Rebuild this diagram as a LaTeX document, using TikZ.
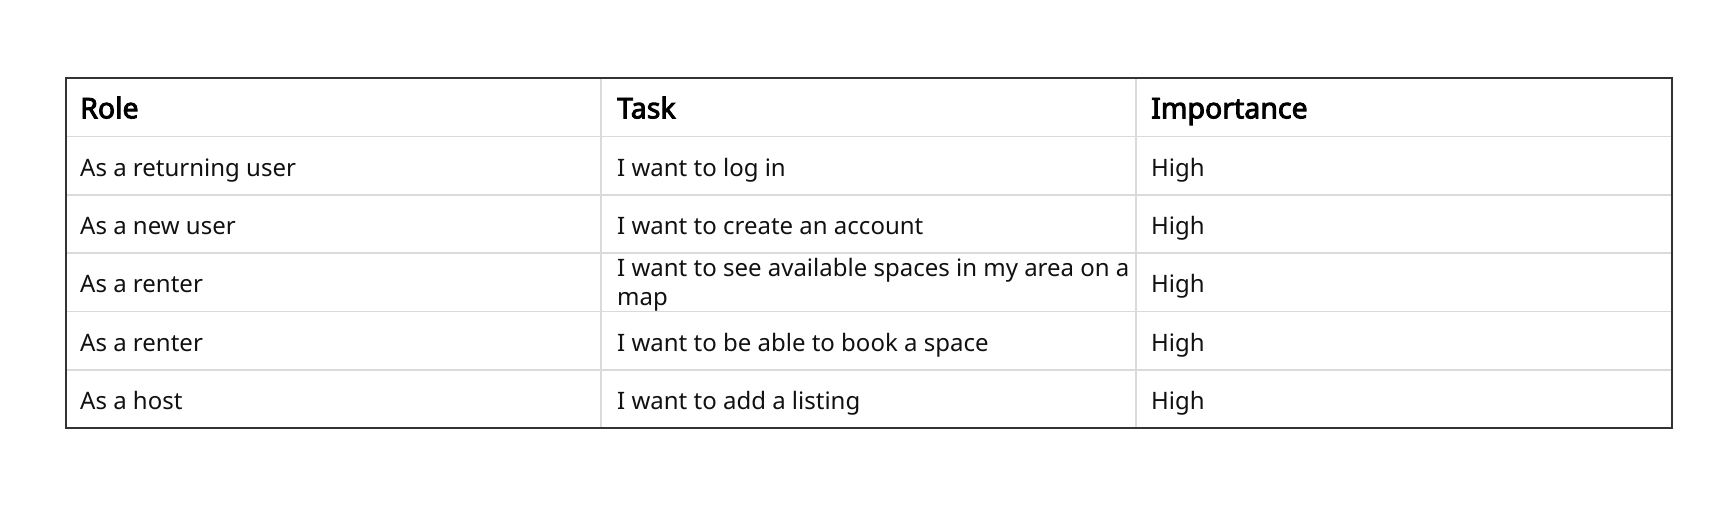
\documentclass[tikz,border=0pt]{standalone}
\usepackage{fontspec}
\setmainfont{Noto Sans}[AutoFakeBold=3.2]
\usepackage{tikz}
\usetikzlibrary{calc}
\definecolor{rimgray}{HTML}{333333}
\definecolor{rulegray}{HTML}{DADADA}
\definecolor{inkblack}{HTML}{111111}
\tikzset{
	cell/.style={anchor=base west, inner sep=0pt, text=inkblack, font=\fontsize{24}{28.5}\selectfont},
	head/.style={cell, text=black, font=\fontsize{28.5}{32}\selectfont\bfseries},
	thin rule/.style={line width=1.5pt, color=rulegray},
	rim/.style={line width=2pt, color=rimgray}
}

\begin{document}
\begin{tikzpicture}[x=1pt, y=-1pt]
		%%%%% START %%%%%
		
		\useasboundingbox (0, 0) rectangle (1724, 520);
		
		\coordinate (tl) at (66, 78);
		\coordinate (br) at (1672, 428.4);
		
		\draw[thin rule] (601, 78) -- (601, 428.4);
		\draw[thin rule] (1136, 78) -- (1136, 428.4);
		
		\draw[thin rule] (66, 136.4) -- (1672, 136.4);
		\draw[thin rule] (66, 194.8) -- (1672, 194.8);
		\draw[thin rule] (66, 253.2) -- (1672, 253.2);
		\draw[thin rule] (66, 311.6) -- (1672, 311.6);
		\draw[thin rule] (66, 370) -- (1672, 370);
		
		\draw[rim] (tl) rectangle (br);
		
		\node[head] (role) at (80, 118.3) {Role};
		\node[head] (task) at (617, 118.3) {Task};
		\node[head] (importance) at (1151, 118.3) {Importance};
		
		\node[cell] (role1) at (80, 176) {As a returning user};
		\node[cell] (task1) at (617, 176) {I want to log in};
		\node[cell] (imp1) at (1151, 176) {High};
		
		\node[cell] (role2) at (80, 234.4) {As a new user};
		\node[cell] (task2) at (617, 234.4) {I want to create an account};
		\node[cell] (imp2) at (1151, 234.4) {High};
		
		\node[cell] (role3) at (80, 292.8) {As a renter};
		\node[cell, align=left] (task3) at (617, 305.2) {I want to see available spaces in my area on a\\map};
		\node[cell] (imp3) at (1151, 292.8) {High};
		
		\node[cell] (role4) at (80, 351.2) {As a renter};
		\node[cell] (task4) at (617, 351.2) {I want to be able to book a space};
		\node[cell] (imp4) at (1151, 351.2) {High};
		
		\node[cell] (role5) at (80, 409.6) {As a host};
		\node[cell] (task5) at (617, 409.6) {I want to add a listing};
		\node[cell] (imp5) at (1151, 409.6) {High};
		
		%%%%% END %%%%%
	\end{tikzpicture}
\end{document}
